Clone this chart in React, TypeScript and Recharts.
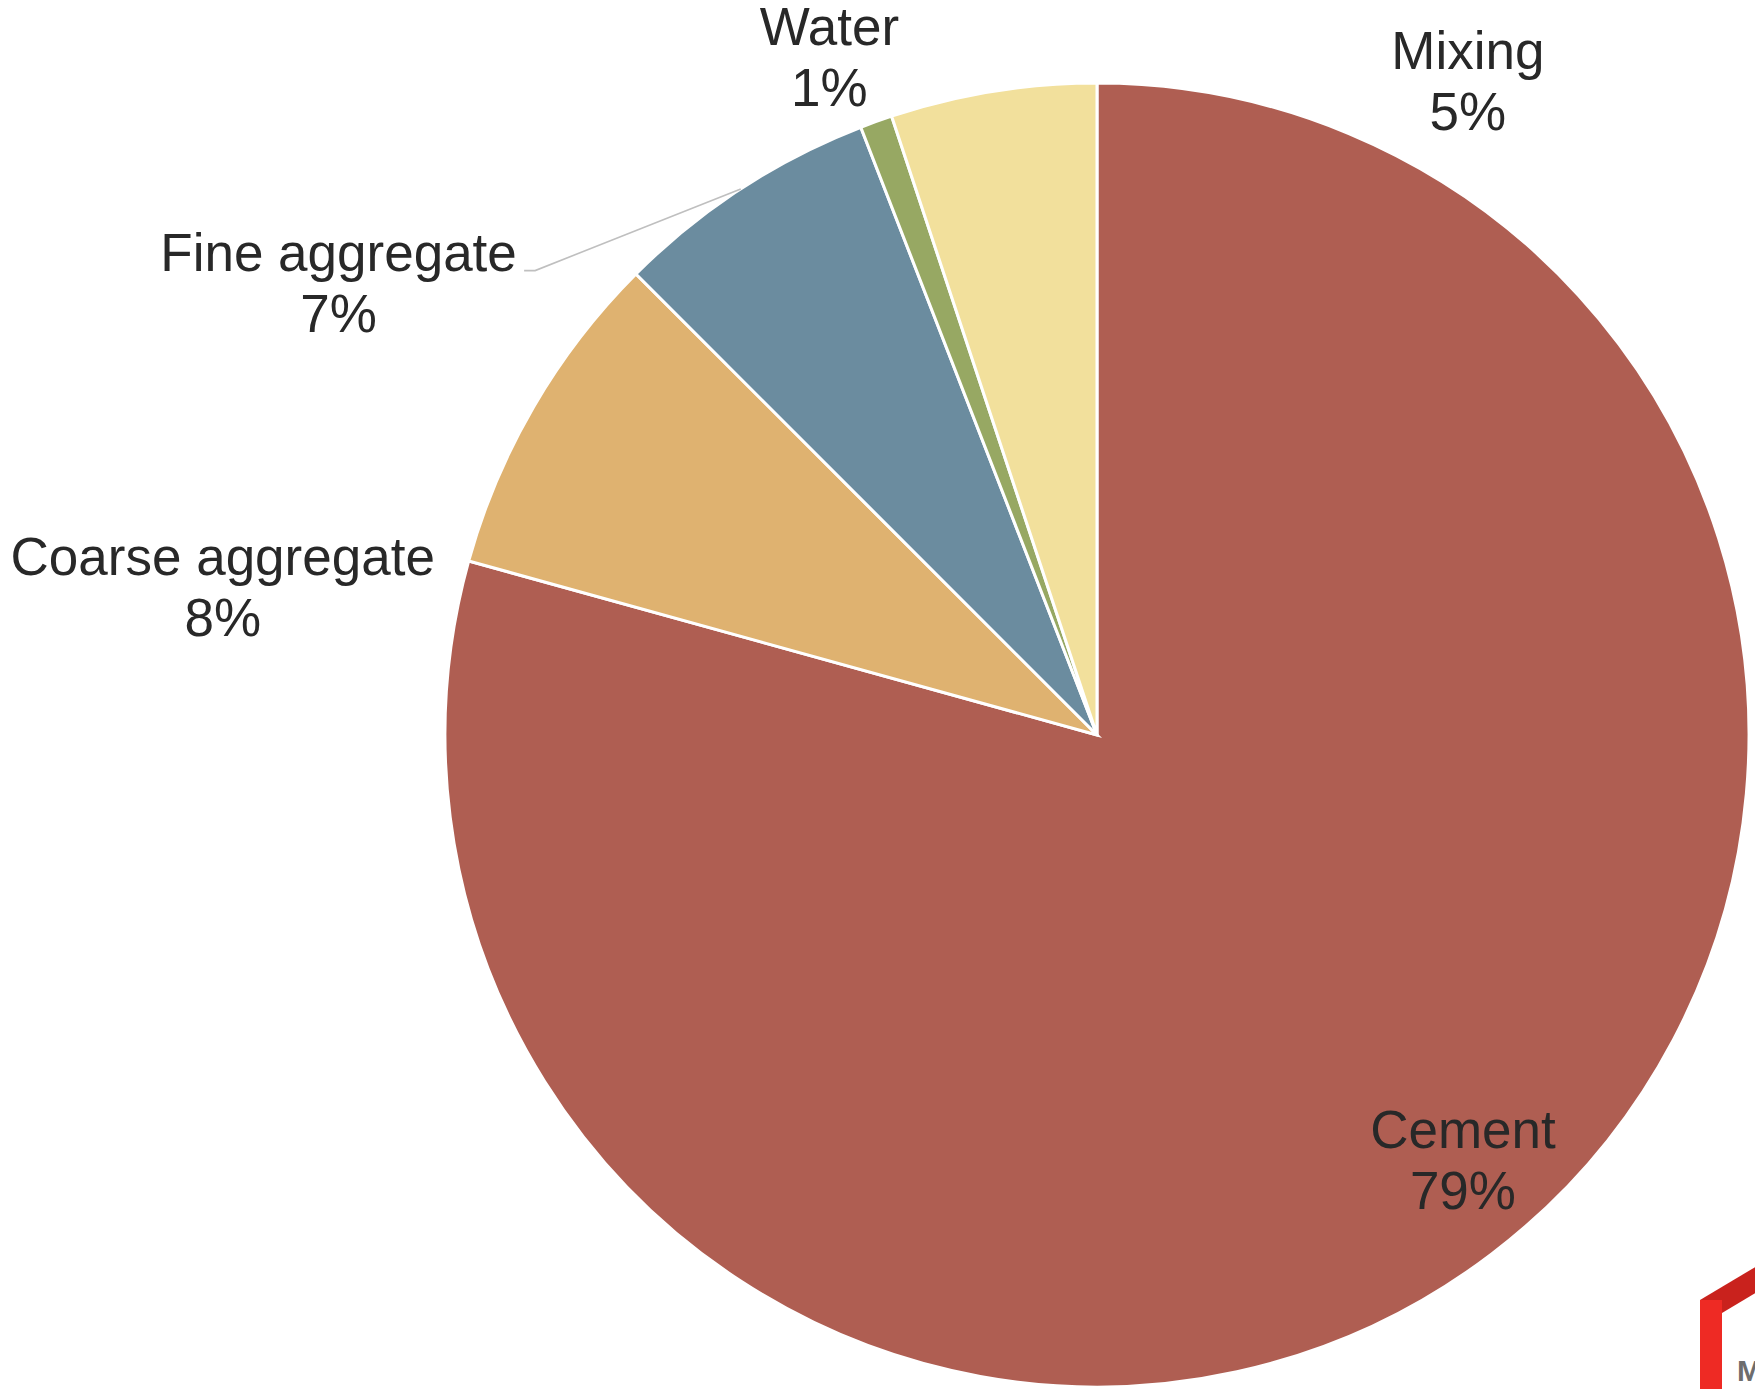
import { Cell, Pie, PieChart } from "recharts";

const names = ["Cement", "Coarse aggregate", "Fine aggregate", "Water", "Mixing"];
const shares = [79.3, 8.2, 6.6, 0.8, 5.1];
const colors = ["#AF5E52", "#DFB270", "#6B8C9F", "#97A863", "#F2E09C"];

// label placement relative to slice mid angle (Excel's manual "best fit" spots)
const labelAngleShift = [4.3, 19.9, 25.4, 1.4, -38.3];
const labelRadius = [0.846, 1.363, 1.364, 1.135, 1.169];
const hasLeader = [false, false, true, false, false];

const data = names.map((name, i) => ({ name, value: shares[i] }));

const RAD = Math.PI / 180;
const FONT = 53;
const LINE = 61;

function renderLabel(props: any) {
  const { cx, cy, midAngle, outerRadius, index, percent, name } = props;
  const a = (midAngle + labelAngleShift[index]) * RAD;
  const r = outerRadius * labelRadius[index];
  const x = cx + r * Math.cos(a);
  const y = cy - r * Math.sin(a);
  let leader = null;
  if (hasLeader[index]) {
    const half = name.length * 0.242 * FONT;
    const sx = x + half + 6;
    const ex = cx + outerRadius * Math.cos(midAngle * RAD);
    const ey = cy - outerRadius * Math.sin(midAngle * RAD);
    leader = (
      <polyline
        points={`${sx},${y} ${sx + 11},${y} ${ex},${ey}`}
        fill="none"
        stroke="#BFBFBF"
        strokeWidth={1.6}
      />
    );
  }
  return (
    <g key={`lbl-${index}`}>
      {leader}
      <text
        x={x}
        y={y}
        textAnchor="middle"
        fontFamily="'Liberation Sans', Arial, sans-serif"
        fontSize={FONT}
        fill="#282828"
      >
        <tspan x={x} y={y}>{name}</tspan>
        <tspan x={x} y={y + LINE}>{`${Math.round(percent * 100)}%`}</tspan>
      </text>
    </g>
  );
}

export default function App() {
  return (
    <div
      style={{
        position: "absolute",
        left: 0,
        top: 0,
        width: 1755,
        height: 1389,
        background: "#fff",
        overflow: "hidden",
      }}
    >
      <PieChart width={1755} height={1389} margin={{ top: 0, right: 0, bottom: 0, left: 0 }}>
        <Pie
          data={data}
          dataKey="value"
          nameKey="name"
          cx={1097}
          cy={735}
          outerRadius={652}
          startAngle={90}
          endAngle={-270}
          stroke="#ffffff"
          strokeWidth={3}
          label={renderLabel}
          labelLine={false}
          isAnimationActive={false}
        >
          {data.map((d, i) => (
            <Cell key={d.name} fill={colors[i]} />
          ))}
        </Pie>
      </PieChart>
      {/* cropped watermark logo in the corner */}
      <svg
        width={1755}
        height={1389}
        style={{ position: "absolute", left: 0, top: 0, pointerEvents: "none" }}
      >
        <polygon points="1700,1300 1757,1266 1757,1292 1722,1313" fill="#C9221D" />
        <rect x={1700} y={1300} width={22} height={89} fill="#EE2A24" />
        <text x={1737} y={1381} fontFamily="'Liberation Sans', Arial, sans-serif" fontWeight="bold" fontSize={30} fill="#6d6d6d">
          M
        </text>
      </svg>
    </div>
  );
}
